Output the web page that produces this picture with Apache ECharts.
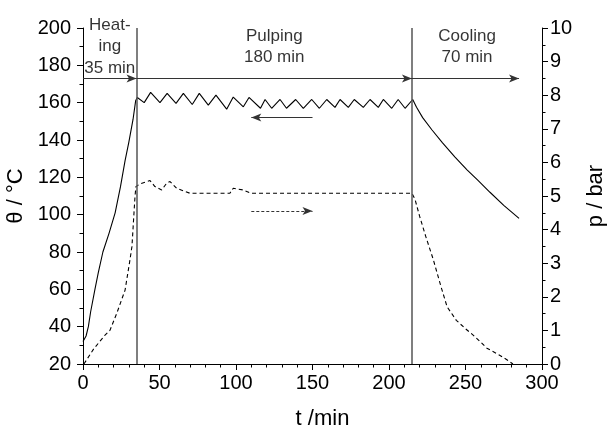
<!DOCTYPE html>
<html>
<head>
<meta charset="utf-8">
<script src="https://cdn.jsdelivr.net/npm/echarts@6/dist/echarts.min.js"></script>
<style>html,body{margin:0;padding:0;background:#fff}#c{width:607px;height:435px}</style>
</head>
<body>
<div id="c"></div>
<script>
// Temperature (θ, °C) vs time (min)
const tTheta = [0, 2, 3.5, 5, 7.8, 10, 13, 17, 21, 24.5, 27.5, 30, 32.7, 34.4, 35.5,
  40, 44.2, 50.3, 55, 60.8, 65.6, 71.4, 76, 81.9, 86.9, 93.9, 98.2, 104.8, 108.5, 116, 119, 123.3, 128.8, 133, 139, 144, 149.5, 154.5, 159.3, 164.7, 168, 173.4, 177.3, 183.2, 187.6, 193, 196.3, 201.8, 206, 210.5, 215.5,
  218, 222, 228, 235, 243, 251, 258, 266, 275, 285];
const theta = [32, 35, 40, 48, 60, 69, 80, 90, 101, 115, 129, 139, 151, 161, 162.8,
  160, 165.5, 160, 165, 159.6, 165, 159, 165, 158.7, 164, 156.5, 163, 157.8, 162.8, 157, 161.7, 157, 161.7, 157, 161.7, 157, 161.7, 157, 161.7, 157.5, 161.7, 157.5, 161.7, 157.5, 161.7, 157.5, 161.7, 157, 161.7, 157, 161.7,
  157.5, 152, 145.5, 138.5, 131, 124, 118.5, 112, 105, 98];
// Pressure (p, bar) vs time (min)
const tP = [0.6, 7, 14.4, 17.6, 22, 27.5, 30.7, 32, 34, 34.6, 37.3, 43.8, 47, 51.4, 54.7, 56.9, 61.2, 70, 96, 98.2, 104.6, 110,
  215, 217, 220, 224, 229, 234, 238, 244, 250, 255, 260, 264, 272, 278, 281];
const p = [0, 0.45, 0.86, 1.0, 1.5, 2.2, 3.1, 3.5, 5.0, 5.28, 5.36, 5.46, 5.28, 5.18, 5.38, 5.43, 5.23, 5.08, 5.08, 5.23, 5.18, 5.08,
  5.08, 4.9, 4.4, 3.8, 3.1, 2.3, 1.7, 1.3, 1.05, 0.86, 0.65, 0.47, 0.27, 0.1, 0];
// Phase boundaries and labels
const phaseBounds = [0, 35, 215, 285];
const phaseArrowTheta = 173;
const phaseLabels = ['Heat-\ning\n35 min', 'Pulping\n180 min', 'Cooling\n70 min'];
const phaseLabelX = [17.5, 125, 251];
const phaseLabelTheta = 190;
const solidArrow = [[150, 152], [110, 152]];
const dashedArrow = [[110, 4.55], [150, 4.55]];
const xTicks = {min: 0, max: 300, interval: 50};
const thetaTicks = {min: 20, max: 200, interval: 20};
const pTicks = {min: 0, max: 10, interval: 1};

const FONT = 'Liberation Sans, Arial, sans-serif';
const chart = echarts.init(document.getElementById('c'), null, {renderer: 'canvas'});

const arrowLines = [];
for (let i = 0; i < phaseBounds.length - 1; i++) {
  arrowLines.push([{coord: [phaseBounds[i], phaseArrowTheta]}, {coord: [phaseBounds[i + 1], phaseArrowTheta]}]);
}

const axisCommon = {
  axisLine: {show: true, lineStyle: {color: '#000', width: 1}},
  axisTick: {show: true, length: 6, lineStyle: {color: '#000'}},
  minorTick: {show: true, length: 3.5, lineStyle: {color: '#000'}},
  splitLine: {show: false},
  axisLabel: {color: '#000', fontSize: 20, fontFamily: FONT, margin: 9},
  nameTextStyle: {color: '#000', fontSize: 22, fontFamily: FONT}
};

chart.setOption({
  animation: false,
  backgroundColor: '#fff',
  grid: {left: 83, right: 65, top: 28, bottom: 71, containLabel: false, outerBoundsMode: 'none'},
  xAxis: Object.assign({}, axisCommon, {
    type: 'value', min: xTicks.min, max: xTicks.max, interval: xTicks.interval,
    minorTick: Object.assign({}, axisCommon.minorTick, {splitNumber: 5}),
    name: 't /min', nameLocation: 'middle', nameGap: 44,
    nameTextStyle: Object.assign({}, axisCommon.nameTextStyle, {padding: [0, 0, 0, 20]})
  }),
  yAxis: [
    Object.assign({}, axisCommon, {
      type: 'value', min: thetaTicks.min, max: thetaTicks.max, interval: thetaTicks.interval, position: 'left',
      minorTick: Object.assign({}, axisCommon.minorTick, {splitNumber: 2}),
      axisLabel: Object.assign({}, axisCommon.axisLabel, {margin: 12}),
      name: 'θ / °C', nameLocation: 'middle', nameGap: 50, nameRotate: 90
    }),
    Object.assign({}, axisCommon, {
      type: 'value', min: pTicks.min, max: pTicks.max, interval: pTicks.interval, position: 'right',
      minorTick: Object.assign({}, axisCommon.minorTick, {splitNumber: 2}),
      axisLabel: Object.assign({}, axisCommon.axisLabel, {margin: 8}),
      name: 'p / bar', nameLocation: 'middle', nameGap: 43, nameRotate: 90
    })
  ],
  series: [
    {
      type: 'line', yAxisIndex: 0, showSymbol: false, symbol: 'none',
      data: tTheta.map((t, i) => [t, theta[i]]),
      lineStyle: {color: '#000', width: 1.1},
      markLine: {
        silent: true, animation: false,
        symbol: ['none', 'none'],
        label: {show: false},
        lineStyle: {color: '#555', width: 1.5, type: 'solid'},
        data: [{xAxis: phaseBounds[1]}, {xAxis: phaseBounds[2]}]
      }
    },
    {
      type: 'line', yAxisIndex: 1, showSymbol: false, symbol: 'none',
      data: tP.map((t, i) => [t, p[i]]),
      lineStyle: {color: '#000', width: 1.1, type: [4, 3]}
    },
    {
      type: 'line', yAxisIndex: 0, data: [], silent: true,
      markLine: {
        silent: true, animation: false,
        symbol: ['none', 'arrow'], symbolSize: [6, 10],
        label: {show: false},
        lineStyle: {color: '#333', width: 1.2, type: 'solid'},
        data: arrowLines.concat([[{coord: solidArrow[0]}, {coord: solidArrow[1]}]])
      }
    },
    {
      type: 'line', yAxisIndex: 1, data: [], silent: true,
      markLine: {
        silent: true, animation: false,
        symbol: ['none', 'arrow'], symbolSize: [6, 10],
        label: {show: false},
        lineStyle: {color: '#333', width: 1.2, type: [3, 2]},
        data: [[{coord: dashedArrow[0]}, {coord: dashedArrow[1]}]]
      }
    },
    {
      type: 'scatter', yAxisIndex: 0, symbolSize: 0, silent: true,
      data: phaseLabels.map((s, i) => ({value: [phaseLabelX[i], phaseLabelTheta], name: s})),
      label: {
        show: true, position: 'inside', formatter: d => d.name,
        color: '#000', fontSize: 17, fontFamily: FONT, lineHeight: 21.5, align: 'center', verticalAlign: 'middle'
      }
    }
  ]
});
</script>
</body>
</html>
